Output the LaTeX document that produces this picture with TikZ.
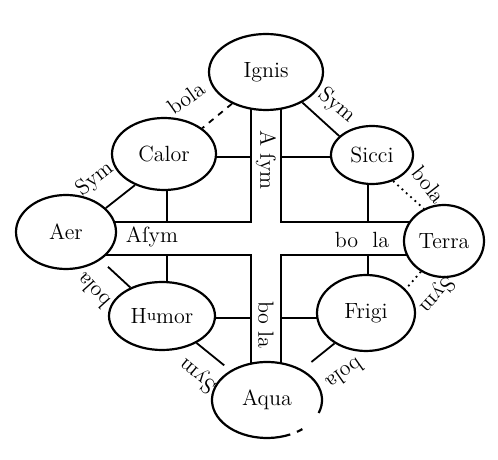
\documentclass[tikz,border=0pt]{standalone}
\usepackage{tikz}
\usetikzlibrary{calc,backgrounds,shapes.geometric}
\tikzset{
  elem/.style={ellipse, draw, line width=1.1pt, fill=white, inner sep=0pt,
    font=\fontsize{11}{13}\selectfont},
  band/.style={line width=0.9pt},
  tie/.style={line width=0.9pt},
  tag/.style={font=\fontsize{11}{13}\selectfont, inner sep=1pt},
}

\begin{document}
\begin{tikzpicture}[x=0.5pt, y=0.5pt]
    \useasboundingbox (0,0) rectangle (498,460);
    % the eight elements and qualities
    \node[elem, minimum width=57pt, minimum height=38pt] (ignis) at (266,388) {Ignis};
    \node[elem, minimum width=52pt, minimum height=36pt] (calor) at (164,306) {Calor};
    \node[elem, minimum width=41pt, minimum height=29pt] (sicci) at (372,305) {Sicci};
    \node[elem, minimum width=50pt, minimum height=37pt] (aer) at (66,228) {Aer};
    \node[elem, minimum width=40pt, minimum height=36pt] (terra) at (444,219) {Terra};
    \node[elem, minimum width=53pt, minimum height=34pt] (humor) at (162,144)
      {H\raisebox{.35ex}{\footnotesize u}mor};
    \node[elem, minimum width=49pt, minimum height=38pt] (frigi) at (366,147) {Frigi};
    \node[elem, draw=none, minimum width=55pt, minimum height=38pt] (aqua) at (267,60) {Aqua};
    % open outline of Aqua
    \draw[line width=1.1pt] ($(aqua.center)+({55*cos(-20)},{38*sin(-20)})$)
      arc[start angle=-20, end angle=295, x radius=55, y radius=38];
    \draw[line width=1.1pt] ($(aqua.center)+({55*cos(-57)},{38*sin(-57)})$)
      arc[start angle=-57, end angle=-50, x radius=55, y radius=38];
    % the cross and its stubs, behind the ellipses
    \coordinate (bandL) at (251,0);
    \coordinate (bandR) at (281,0);
    \coordinate (bandT) at (0,238);
    \coordinate (bandB) at (0,205);
    \coordinate (rowC) at (0,303);
    \coordinate (rowH) at (0,142);
    \coordinate (colL) at (167,0);
    \coordinate (colR) at (368,0);
    \begin{scope}[on background layer]
      \draw[band] (ignis.center -| bandL) -- (bandL |- bandT) -- (aer.center |- bandT);
      \draw[band] (ignis.center -| bandR) -- (bandR |- bandT) -- (terra.center |- bandT);
      \draw[band] (aqua.center -| bandL) -- (bandL |- bandB) -- (aer.center |- bandB);
      \draw[band] (aqua.center -| bandR) -- (bandR |- bandB) -- (terra.center |- bandB);
      \draw[band] (calor.center |- rowC) -- (bandL |- rowC);
      \draw[band] (sicci.center |- rowC) -- (bandR |- rowC);
      \draw[band] (humor.center |- rowH) -- (bandL |- rowH);
      \draw[band] (frigi.center |- rowH) -- (bandR |- rowH);
      \draw[band] (calor.center -| colL) -- (colL |- bandT);
      \draw[band] (sicci.center -| colR) -- (colR |- bandT);
      \draw[band] (humor.center -| colL) -- (colL |- bandB);
      \draw[band] (frigi.center -| colR) -- (colR |- bandB);
    \end{scope}
    % outer ties
    \draw[tie, dashed] (ignis.223) -- (calor.34);
    \draw[tie] (ignis.320) -- (sicci.150);
    \draw[tie] (calor.227) -- (aer.31);
    \draw[tie, dotted] (sicci.309) -- (terra.122);
    \draw[tie, shorten <=5pt] (aer.321) -- (humor.138);
    \draw[tie, dotted] (terra.233) -- (frigi.31);
    \draw[tie, shorten >=4pt] (humor.322) -- (aqua.141);
    \draw[tie, shorten >=6pt] (frigi.224) -- (aqua.41);
    % labels on the ties
    \node[tag, rotate=35] (tagIC) at (186,362) {bola};
    \node[tag, rotate=-40] (tagIS) at (337,354) {Sym};
    \node[tag, rotate=38] (tagCA) at (95,281) {Sym};
    \node[tag, rotate=-52] (tagST) at (429,275) {bola};
    \node[tag, rotate=132] (tagAH) at (93,169) {bola};
    \node[tag, rotate=228] (tagTF) at (437,165) {Sym};
    \node[tag, rotate=140] (tagHA) at (198,85) {Sym};
    \node[tag, rotate=215] (tagFA) at (345,86) {bola};
    % labels in the cross
    \node[tag, rotate=-90] (asymV) at (266,300) {A ſym};
    \node[tag, rotate=-90] (bolaV) at (266,135) {bo la};
    \node[tag] (asymH) at (152,223) {Aſym};
    \node[tag] (bolaH) at (362,220) {bo\ \ la};
\end{tikzpicture}
\end{document}
